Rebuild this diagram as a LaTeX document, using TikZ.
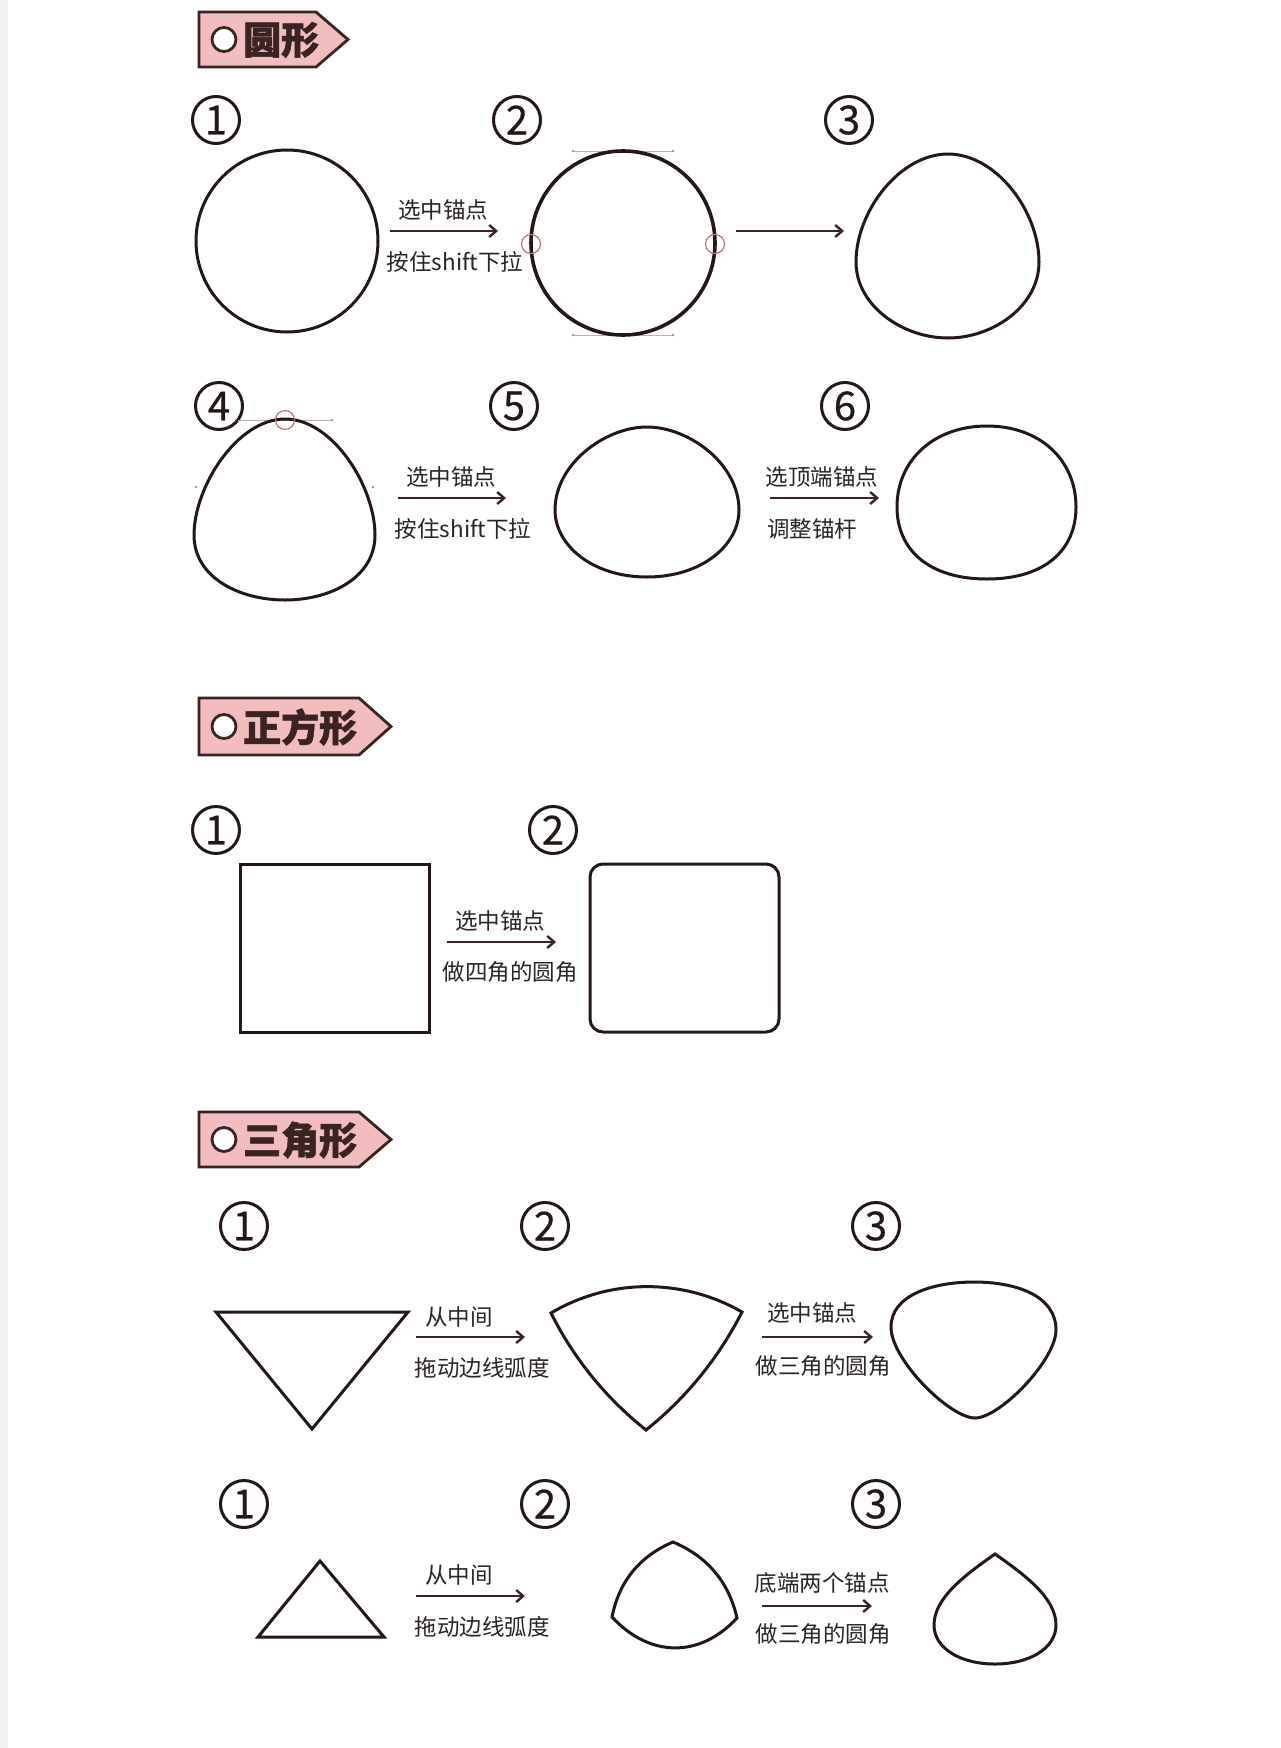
\documentclass[tikz,border=0pt]{standalone}
\usepackage{fontspec}
\newfontfamily\cjk{Noto Sans CJK SC}
\newfontfamily\cjkheavy{Noto Sans CJK SC}[BoldFeatures={FakeBold=1.4}]
\newfontfamily\cjknum{Noto Sans CJK SC}[FakeBold=0.6]
\usetikzlibrary{arrows.meta}
\definecolor{ink}{HTML}{231815}
\definecolor{tagpink}{HTML}{F2BDBE}
\definecolor{tagline}{HTML}{3A2323}
\definecolor{txt}{HTML}{2B2424}
\definecolor{anc}{HTML}{C8707A}
\definecolor{strip}{HTML}{F1F1F1}
\begin{document}
\begin{tikzpicture}[x=1pt,y=-1pt,
  outline/.style={draw=ink,line width=3pt,line join=round},
  tagbox/.style={draw=tagline,fill=tagpink,line width=2.8pt,line join=miter},
  tagdot/.style={circle,draw=tagline,fill=white,line width=2.8pt,minimum size=24pt,inner sep=0pt},
  tagtext/.style={anchor=west,inner sep=0pt,text=tagline,font=\cjkheavy\bfseries\fontsize{38}{38}\selectfont},
  numc/.style={circle,draw=ink,line width=3pt,minimum size=47pt,inner sep=0pt,text=ink,font=\cjknum\fontsize{40}{40}\selectfont},
  lbl/.style={inner sep=0pt,text=txt,font=\cjk\fontsize{22.5}{22.5}\selectfont},
  flow/.style={draw=tagline,line width=2.8pt,-{Straight Barb[length=7pt,width=12pt,line width=2.4pt]}},
  anchorpt/.style={circle,draw=anc,line width=1.2pt,minimum size=19pt,inner sep=0pt},
  handle/.style={draw=gray!60,line width=0.7pt},
  hdot/.style={fill=gray!80}
]
\useasboundingbox (0,0) rectangle (1280,1748);
\fill[white] (0,0) rectangle (1280,1748);
\fill[strip] (0,0) rectangle (8,1748);

% ================= Section 1: circle =================
\draw[tagbox] (199,12) -- (316,12) -- (348,39.5) -- (316,67) -- (199,67) -- cycle;
\node[tagdot] (t1dot) at (224,39.5) {};
\node[tagtext] (t1) at (243,40) {圆形};

\node[numc] (c1) at (216,120) {1};
\node[numc] (c2) at (517,120) {2};
\node[numc] (c3) at (849,120) {3};

% shape 1: circle
\draw[outline] (287,241) circle[radius=91pt];
% shape 2: circle with anchors
\draw[handle] (573,151) -- (673,151);
\draw[handle] (573,335) -- (673,335);
\fill[hdot] (573,151) circle[radius=1.4pt];
\fill[hdot] (673,151) circle[radius=1.4pt];
\fill[hdot] (573,335) circle[radius=1.4pt];
\fill[hdot] (673,335) circle[radius=1.4pt];
\draw[outline,line width=3.6pt] (623,243) circle[radius=92pt];
\node[anchorpt] (p2l) at (531,244) {};
\node[anchorpt] (p2r) at (715,244) {};
% shape 3: egg
\draw[outline] (948,154) .. controls (996,154) and (1039,211) .. (1039,262)
  .. controls (1039,306) and (993,338) .. (948,338)
  .. controls (903,338) and (856,306) .. (856,262)
  .. controls (856,211) and (900,154) .. (948,154) -- cycle;

\coordinate (a1s) at (390,231); \coordinate (a1e) at (498,231);
\draw[flow] (a1s) -- (a1e);
\node[lbl] (l1a) at (443,210) {选中锚点};
\node[lbl] (l1b) at (455,262) {按住shift下拉};
\coordinate (a2s) at (736,231); \coordinate (a2e) at (844,231);
\draw[flow] (a2s) -- (a2e);

% row 2
\node[numc] (c4) at (219,406) {4};
\node[numc] (c5) at (514,406) {5};
\node[numc] (c6) at (845,406) {6};

% shape 4: egg with top anchor
\draw[handle] (238,420) -- (332,420);
\fill[hdot] (332,420) circle[radius=1.4pt];
\fill[hdot] (196,487) circle[radius=1.4pt];
\fill[hdot] (373,487) circle[radius=1.4pt];
\draw[outline] (285,419) .. controls (333,419) and (375,487) .. (375,535)
  .. controls (375,578) and (330,600) .. (285,600)
  .. controls (240,600) and (194,578) .. (194,535)
  .. controls (194,487) and (237,419) .. (285,419) -- cycle;
\node[anchorpt] (p4t) at (285,420) {};
% shape 5
\draw[outline] (647,427) .. controls (689,427) and (739,464) .. (739,510)
  .. controls (739,545) and (702,577) .. (647,577)
  .. controls (592,577) and (555,545) .. (555,510)
  .. controls (555,464) and (605,427) .. (647,427) -- cycle;
% shape 6
\draw[outline] (987,426) .. controls (1040,426) and (1076,460) .. (1076,507)
  .. controls (1076,550) and (1045,579) .. (987,579)
  .. controls (929,579) and (897,550) .. (897,507)
  .. controls (897,460) and (934,426) .. (987,426) -- cycle;

\coordinate (a3s) at (398,498); \coordinate (a3e) at (506,498);
\draw[flow] (a3s) -- (a3e);
\node[lbl] (l3a) at (451,477) {选中锚点};
\node[lbl] (l3b) at (463,529) {按住shift下拉};
\coordinate (a4s) at (770,498); \coordinate (a4e) at (879,498);
\draw[flow] (a4s) -- (a4e);
\node[lbl] (l4a) at (822,477) {选顶端锚点};
\node[lbl,anchor=west] (l4b) at (767,529) {调整锚杆};

% ================= Section 2: square =================
\draw[tagbox] (199,698) -- (359,698) -- (391,726.5) -- (359,755) -- (199,755) -- cycle;
\node[tagdot] (t2dot) at (224,726.5) {};
\node[tagtext] (t2) at (243,727) {正方形};

\node[numc] (d1) at (216,830) {1};
\node[numc] (d2) at (553,830) {2};
\draw[outline,line join=miter] (240,864) rectangle (429,1032);
\draw[outline,rounded corners=13pt] (590,864) rectangle (779,1032);
\coordinate (a5s) at (447,942); \coordinate (a5e) at (556,942);
\draw[flow] (a5s) -- (a5e);
\node[lbl] (l5a) at (500,921) {选中锚点};
\node[lbl] (l5b) at (510,972) {做四角的圆角};

% ================= Section 3: triangle =================
\draw[tagbox] (199,1112) -- (359,1112) -- (391,1139.5) -- (359,1167) -- (199,1167) -- cycle;
\node[tagdot] (t3dot) at (224,1139.5) {};
\node[tagtext] (t3) at (243,1140) {三角形};

\node[numc] (e1) at (244,1226) {1};
\node[numc] (e2) at (545,1226) {2};
\node[numc] (e3) at (876,1226) {3};

% inverted triangle
\draw[outline,line join=miter] (216,1312) -- (408,1312) -- (312,1429) -- cycle;
% curved inverted triangle
\draw[outline,line join=miter] (551,1313) .. controls (610,1278) and (683,1278) .. (742,1312)
  .. controls (718.5,1358) and (686.5,1397.6) .. (646,1430)
  .. controls (606,1398) and (574,1359) .. (551,1313) -- cycle;
% rounded one
\draw[outline] (974,1282) .. controls (1015,1282) and (1056,1295) .. (1056,1330)
  .. controls (1056,1360) and (1000,1418) .. (975,1418)
  .. controls (950,1418) and (891,1360) .. (891,1327)
  .. controls (891,1295) and (933,1282) .. (974,1282) -- cycle;

\coordinate (a6s) at (416,1337); \coordinate (a6e) at (525,1337);
\draw[flow] (a6s) -- (a6e);
\node[lbl] (l6a) at (459,1317) {从中间};
\node[lbl] (l6b) at (482,1368) {拖动边线弧度};
\coordinate (a7s) at (762,1337); \coordinate (a7e) at (873,1337);
\draw[flow] (a7s) -- (a7e);
\node[lbl] (l7a) at (812,1313) {选中锚点};
\node[lbl] (l7b) at (823,1366) {做三角的圆角};

% row 2
\node[numc] (f1) at (244,1504) {1};
\node[numc] (f2) at (545,1504) {2};
\node[numc] (f3) at (876,1504) {3};

\draw[outline,line join=miter] (320,1561) -- (384,1637) -- (258,1637) -- cycle;
\draw[outline,line join=miter] (673,1542) .. controls (707.3,1556.4) and (728.7,1581.8) .. (737,1618)
  .. controls (700,1658) and (650,1658) .. (612,1617)
  .. controls (619.1,1581.3) and (639.5,1556.3) .. (673,1542) -- cycle;
\draw[outline,line join=miter] (995,1554) .. controls (1025,1575) and (1056,1598) .. (1056,1625)
  .. controls (1056,1648) and (1030,1664) .. (995,1664)
  .. controls (960,1664) and (934,1648) .. (934,1625)
  .. controls (934,1598) and (965,1575) .. (995,1554) -- cycle;

\coordinate (a8s) at (416,1596); \coordinate (a8e) at (525,1596);
\draw[flow] (a8s) -- (a8e);
\node[lbl] (l8a) at (459,1575) {从中间};
\node[lbl] (l8b) at (482,1627) {拖动边线弧度};
\coordinate (a9s) at (762,1606); \coordinate (a9e) at (872,1606);
\draw[flow] (a9s) -- (a9e);
\node[lbl] (l9a) at (822,1583) {底端两个锚点};
\node[lbl] (l9b) at (823,1634) {做三角的圆角};
\end{tikzpicture}
\end{document}
